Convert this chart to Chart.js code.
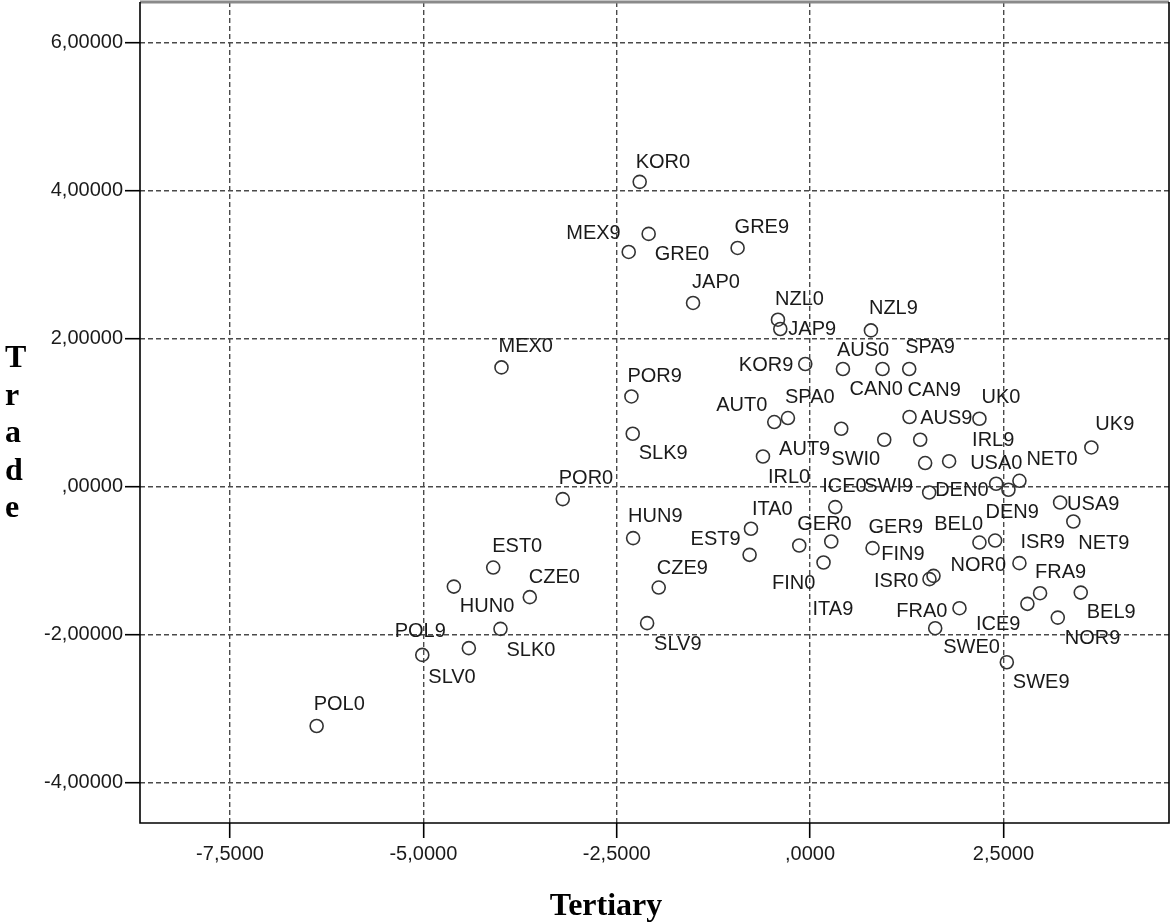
<!DOCTYPE html>
<html>
<head>
<meta charset="utf-8">
<script src="https://cdn.jsdelivr.net/npm/chart.js@4.4.1/dist/chart.umd.min.js"></script>
<style>
  html, body { margin: 0; padding: 0; background: #ffffff; }
  #wrap { position: relative; width: 1171px; height: 923px; }
  canvas { display: block; }
</style>
</head>
<body>
<div id="wrap"><canvas id="chart" width="1171" height="923"></canvas></div>
<script>
// Country-year cases (9 = 1990s, 0 = 2000s)
const caseLabels = [
  'KOR0','MEX9','GRE0','GRE9','JAP0','NZL0','JAP9','MEX0','KOR9','POR9',
  'SLK9','NZL9','AUS0','CAN0','SPA9','CAN9','UK0','AUT0','SPA0','AUT9',
  'SWI0','AUS9','UK9','IRL0','SWI9','IRL9','USA0','DEN9','NET0','DEN0',
  'ICE0','USA9','NET9','ITA0','EST9','GER0','FIN0','ITA9','GER9','FIN9',
  'ISR0','NOR0','BEL0','ISR9','FRA9','ICE9','BEL9','NOR9','FRA0','SWE0',
  'SWE9','POR0','HUN9','EST0','CZE0','CZE9','SLV9','HUN0','SLK0','POL9',
  'SLV0','POL0'
];

// Tertiary score (x)
const tertiary = [
  -2.203, -2.345, -2.087, -0.937, -1.513, -0.415, -0.385, -3.990, -0.062, -2.310,
  -2.293,  0.787,  0.425,  0.937,  1.282,  1.286,  2.190, -0.463, -0.286,  0.403,
   0.959,  1.424,  3.637, -0.609,  1.488,  1.798,  2.406,  2.565,  2.707,  1.540,
   0.326,  3.233,  3.404, -0.764, -0.782, -0.140,  0.274,  0.174,  0.808,  1.596,
   1.544,  2.190,  2.393,  2.707,  2.974,  2.810,  3.500,  3.203,  1.932,  1.618,
   2.544, -3.198, -2.288, -4.097, -3.624, -1.957, -2.107, -4.606, -4.003, -4.412,
  -5.014, -6.380
];

// Trade score (y)
const trade = [
   4.121,  3.174,  3.418,  3.228,  2.485,  2.259,  2.133,  1.614,  1.660,  1.222,
   0.718,  2.114,  1.593,  1.593,  1.593,  0.944,  0.921,  0.876,  0.930,  0.785,
   0.637,  0.637,  0.533,  0.411,  0.322,  0.347,  0.042, -0.039,  0.082, -0.076,
  -0.273, -0.211, -0.468, -0.566, -0.918, -0.792, -0.738, -1.022, -0.827, -1.202,
  -1.246, -0.752, -0.725, -1.030, -1.436, -1.580, -1.428, -1.766, -1.639, -1.909,
  -2.369, -0.165, -0.692, -1.090, -1.490, -1.360, -1.841, -1.347, -1.918, -2.179,
  -2.270, -3.230
];

// Axis ticks
const xTickValues = [-7.5, -5, -2.5, 0, 2.5];
const xTickLabels = ['-7,5000', '-5,0000', '-2,5000', ',0000', '2,5000'];
const yTickValues = [-4, -2, 0, 2, 4, 6];
const yTickLabels = ['-4,00000', '-2,00000', ',00000', '2,00000', '4,00000', '6,00000'];

// Where each case label sits relative to its marker: [dx, dy, anchor]
// anchor 'L' -> dx is the label's left edge, 'R' -> dx is its right edge; dy is the text's vertical centre
const labelOffsets = [
  [-4,-21,'L'], [-8,-20,'R'], [6,19,'L'], [-3,-22,'L'], [-1,-22,'L'], [-3,-22,'L'], [8,-1,'L'], [-3,-22,'L'], [-12,0,'R'], [-4,-21,'L'],
  [6,18,'L'], [-2,-23,'L'], [-6,-20,'L'], [-33,19,'L'], [-4,-23,'L'], [-2,-28,'L'], [2,-23,'L'], [-7,-18,'R'], [-3,-22,'L'], [-11,19,'R'],
  [-4,18,'R'], [0,-23,'L'], [4,-24,'L'], [5,20,'L'], [-12,22,'R'], [23,-22,'L'], [-26,-22,'L'], [-23,21,'L'], [7,-23,'L'], [6,-4,'L'],
  [-13,-22,'L'], [7,0,'L'], [5,20,'L'], [1,-21,'L'], [-9,-17,'R'], [-2,-23,'L'], [-16,40,'R'], [-11,45,'L'], [-4,-22,'L'], [-9,-23,'R'],
  [-11,1,'R'], [-29,21,'L'], [-12,-18,'R'], [1,-22,'L'], [-5,-22,'L'], [-7,19,'R'], [6,18,'L'], [7,19,'L'], [-12,2,'R'], [8,18,'L'],
  [6,19,'L'], [-4,-22,'L'], [-5,-23,'L'], [-1,-23,'L'], [-1,-21,'L'], [-2,-21,'L'], [7,20,'L'], [6,18,'L'], [6,20,'L'], [-23,-18,'R'],
  [6,21,'L'], [-3,-23,'L']
];

const TICK_FONT = { family: '"Liberation Sans", Arial, sans-serif', size: 20 };
const LABEL_FONT = '20px "Liberation Sans", Arial, sans-serif';
const TITLE_FONT = 'bold 32px "Liberation Serif", "Times New Roman", serif';
const INK = '#1a1a1a';

// Case labels next to every marker
const caseLabelPlugin = {
  id: 'caseLabels',
  afterDatasetsDraw(chart) {
    const ctx = chart.ctx;
    const meta = chart.getDatasetMeta(0);
    ctx.save();
    ctx.font = LABEL_FONT;
    ctx.fillStyle = INK;
    ctx.textBaseline = 'alphabetic';
    meta.data.forEach((pt, i) => {
      const [dx, dy, anchor] = labelOffsets[i];
      ctx.textAlign = anchor === 'R' ? 'right' : 'left';
      ctx.fillText(caseLabels[i], pt.x + dx, pt.y + dy + 7);
    });
    ctx.restore();
  }
};

// Plot frame and the two axis titles
const framePlugin = {
  id: 'frameAndTitles',
  afterDraw(chart) {
    const { ctx, chartArea: a } = chart;
    ctx.save();
    ctx.lineCap = 'butt';
    ctx.strokeStyle = '#8a8a8a';
    ctx.lineWidth = 3;
    ctx.beginPath();
    ctx.moveTo(a.left, a.top);
    ctx.lineTo(a.right, a.top);
    ctx.stroke();
    ctx.strokeStyle = '#000';
    ctx.lineWidth = 1.6;
    ctx.beginPath();
    ctx.moveTo(a.left, a.top);
    ctx.lineTo(a.left, a.bottom);
    ctx.lineTo(a.right, a.bottom);
    ctx.lineTo(a.right, a.top);
    ctx.stroke();

    ctx.fillStyle = '#000';
    ctx.font = TITLE_FONT;
    ctx.textBaseline = 'alphabetic';
    ctx.textAlign = 'left';
    'Trade'.split('').forEach((ch, i) => {
      ctx.fillText(ch, 5, 367 + i * 37.5);
    });
    ctx.textAlign = 'center';
    ctx.fillText('Tertiary', 606, 915);
    ctx.restore();
  }
};

const gridStyle = {
  color: '#4a4a4a',
  lineWidth: 1.4,
  tickLength: 15,
  tickColor: '#000',
  tickWidth: 1.6,
  drawTicks: true
};

new Chart(document.getElementById('chart'), {
  type: 'scatter',
  data: {
    datasets: [{
      data: tertiary.map((x, i) => ({ x: x, y: trade[i] })),
      pointStyle: 'circle',
      pointRadius: 6.5,
      pointHoverRadius: 6.5,
      pointBorderWidth: 1.6,
      pointBorderColor: '#333333',
      pointBackgroundColor: 'rgba(0,0,0,0)',
      showLine: false,
      clip: false
    }]
  },
  options: {
    responsive: false,
    animation: false,
    devicePixelRatio: 1,
    layout: { autoPadding: false, padding: { top: 2, right: 2, left: 0, bottom: 0 } },
    plugins: { legend: { display: false }, tooltip: { enabled: false } },
    scales: {
      x: {
        type: 'linear',
        min: -8.664,
        max: 4.641,
        afterBuildTicks: s => { s.ticks = xTickValues.map(v => ({ value: v })); },
        afterFit: s => {
          s.height = 100;
          s.paddingLeft = 0;
          s.paddingRight = 0;
        },
        ticks: {
          autoSkip: false,
          maxRotation: 0,
          padding: 4,
          color: INK,
          font: TICK_FONT,
          callback: v => xTickLabels[xTickValues.indexOf(v)]
        },
        grid: gridStyle,
        border: { display: false, dash: [5, 3] }
      },
      y: {
        type: 'linear',
        min: -4.541,
        max: 6.551,
        afterBuildTicks: s => { s.ticks = yTickValues.map(v => ({ value: v })); },
        afterFit: s => {
          s.width = 140;
          s.paddingTop = 0;
          s.paddingBottom = 0;
        },
        ticks: {
          autoSkip: false,
          padding: 2,
          color: INK,
          font: TICK_FONT,
          callback: v => yTickLabels[yTickValues.indexOf(v)]
        },
        grid: gridStyle,
        border: { display: false, dash: [5, 3] }
      }
    }
  },
  plugins: [caseLabelPlugin, framePlugin]
});
</script>
</body>
</html>
